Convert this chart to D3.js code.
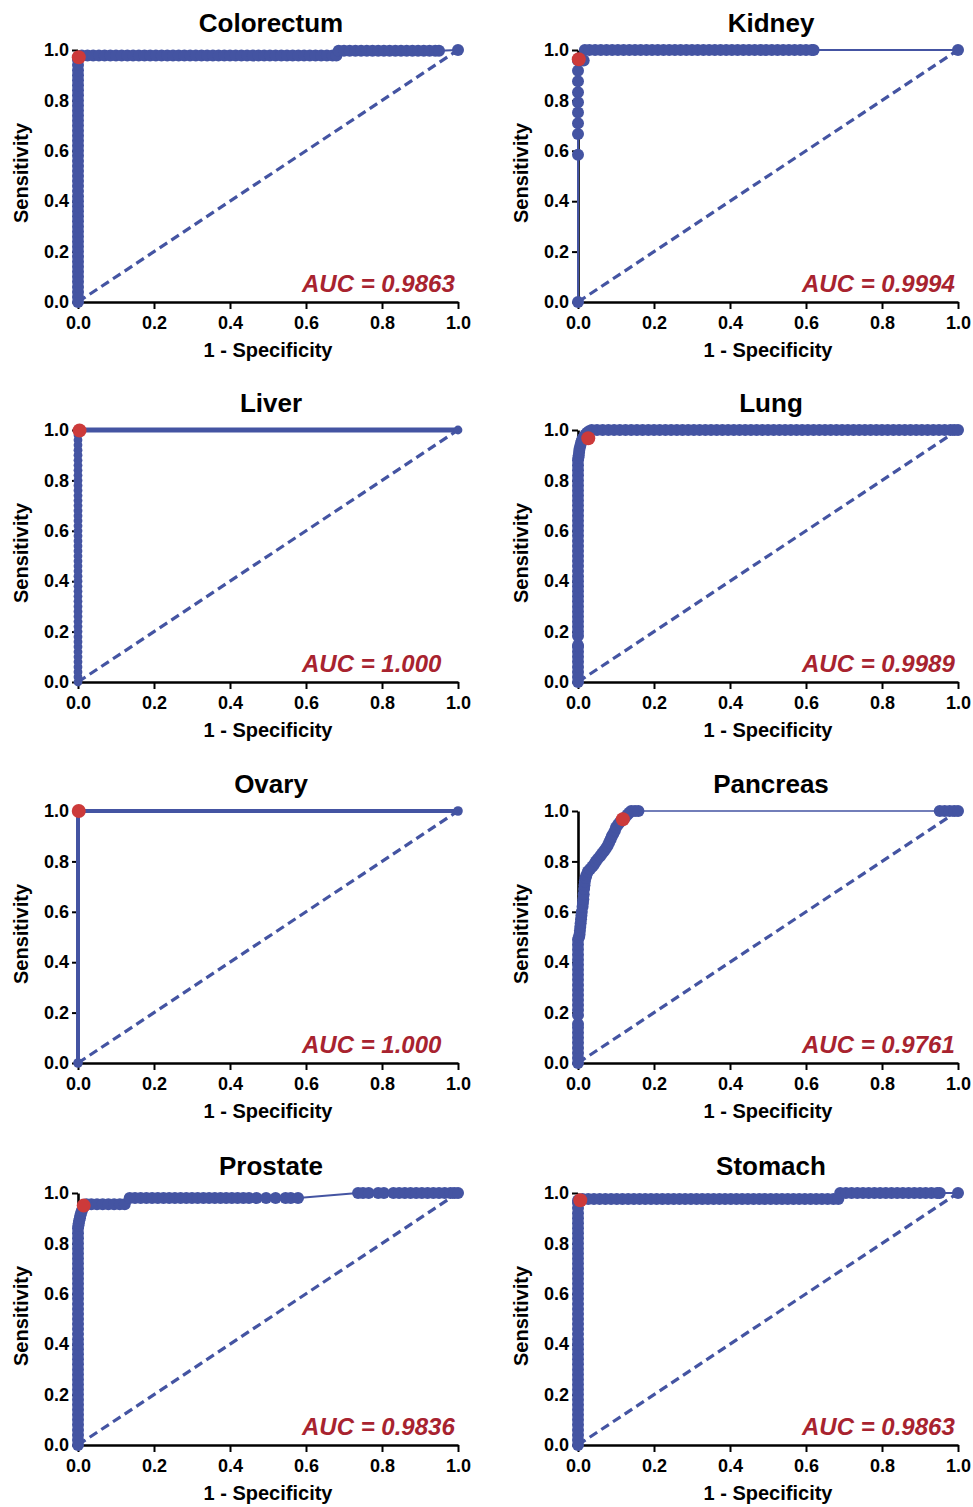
<!DOCTYPE html>
<html>
<head>
<meta charset="utf-8">
<script src="https://cdn.jsdelivr.net/npm/d3@7"></script>
<style>
body { margin: 0; background: #ffffff; }
svg { display: block; }
</style>
</head>
<body>
<svg id="svg" width="973" height="1507"></svg>
<script>
//Panels, in reading order
const ORGANS = ["Colorectum", "Kidney", "Liver", "Lung", "Ovary", "Pancreas", "Prostate", "Stomach"];
const AUC_LABELS = ["0.9863", "0.9994", "1.000", "0.9989", "1.000", "0.9761", "0.9836", "0.9863"];
const TICKS = [0, 0.2, 0.4, 0.6, 0.8, 1.0];

//ROC points: [1 - specificity, sensitivity]
const colorectumRoc = [[0,0],[0,0.02],[0,0.04],[0,0.06],[0,0.08],[0,0.1],[0,0.12],[0,0.14],[0,0.16],[0,0.18],[0,0.2],[0,0.22],[0,0.24],[0,0.26],[0,0.28],[0,0.3],[0,0.32],[0,0.34],[0,0.36],[0,0.38],[0,0.4],[0,0.42],[0,0.44],[0,0.46],[0,0.48],[0,0.5],[0,0.52],[0,0.54],[0,0.56],[0,0.58],[0,0.6],[0,0.62],[0,0.64],[0,0.66],[0,0.68],[0,0.7],[0,0.72],[0,0.74],[0,0.76],[0,0.78],[0,0.8],[0,0.82],[0,0.84],[0,0.86],[0,0.88],[0,0.9],[0,0.92],[0,0.94],[0,0.96],[0,0.97],
  [0.01,0.978],[0.025,0.978],[0.04,0.978],[0.055,0.978],[0.07,0.978],[0.085,0.978],[0.1,0.978],[0.115,0.978],[0.13,0.978],[0.145,0.978],[0.16,0.978],[0.175,0.978],[0.19,0.978],[0.205,0.978],[0.22,0.978],[0.235,0.978],[0.25,0.978],[0.265,0.978],[0.28,0.978],[0.295,0.978],[0.31,0.978],[0.325,0.978],[0.34,0.978],[0.355,0.978],[0.37,0.978],[0.385,0.978],[0.4,0.978],[0.415,0.978],[0.43,0.978],[0.445,0.978],[0.46,0.978],[0.475,0.978],[0.49,0.978],[0.505,0.978],[0.52,0.978],[0.535,0.978],[0.55,0.978],[0.565,0.978],[0.58,0.978],[0.595,0.978],[0.61,0.978],[0.625,0.978],[0.64,0.978],[0.655,0.978],[0.67,0.978],[0.68,0.978],
  [0.686,0.997],[0.7,0.997],[0.715,0.997],[0.73,0.997],[0.745,0.997],[0.76,0.997],[0.775,0.997],[0.79,0.997],[0.805,0.997],[0.82,0.997],[0.835,0.997],[0.85,0.997],[0.865,0.997],[0.88,0.997],[0.895,0.997],[0.91,0.997],[0.925,0.997],[0.94,0.997],[0.95,0.997],[1,1]];

const kidneyRoc = [[0,0],[0,0.584],[0,0.667],[0,0.709],[0,0.752],[0,0.793],[0,0.832],[0,0.876],[0,0.918],[0,0.958],[0.015,0.958],
  [0.018,1],[0.03,1],[0.045,1],[0.06,1],[0.075,1],[0.09,1],[0.105,1],[0.12,1],[0.135,1],[0.15,1],[0.165,1],[0.18,1],[0.195,1],[0.21,1],[0.225,1],[0.24,1],[0.255,1],[0.27,1],[0.285,1],[0.3,1],[0.315,1],[0.33,1],[0.345,1],[0.36,1],[0.375,1],[0.39,1],[0.405,1],[0.42,1],[0.435,1],[0.45,1],[0.465,1],[0.48,1],[0.495,1],[0.51,1],[0.525,1],[0.54,1],[0.555,1],[0.57,1],[0.585,1],[0.6,1],[0.615,1],[0.62,1],[1,1]];

const liverRoc = [[0,0],[0,0.02],[0,0.04],[0,0.06],[0,0.08],[0,0.1],[0,0.12],[0,0.14],[0,0.16],[0,0.18],[0,0.2],[0,0.22],[0,0.24],[0,0.26],[0,0.28],[0,0.3],[0,0.32],[0,0.34],[0,0.36],[0,0.38],[0,0.4],[0,0.42],[0,0.44],[0,0.46],[0,0.48],[0,0.5],[0,0.52],[0,0.54],[0,0.56],[0,0.58],[0,0.6],[0,0.62],[0,0.64],[0,0.66],[0,0.68],[0,0.7],[0,0.72],[0,0.74],[0,0.76],[0,0.78],[0,0.8],[0,0.82],[0,0.84],[0,0.86],[0,0.88],[0,0.9],[0,0.92],[0,0.94],[0,0.96],[0,0.98],[0,1],[1,1]];

const lungRoc = [[0,0],[0,0.02],[0,0.04],[0,0.06],[0,0.08],[0,0.1],[0,0.12],[0,0.14],[0,0.145],[0,0.183],[0,0.2],[0,0.22],[0,0.24],[0,0.26],[0,0.28],[0,0.3],[0,0.32],[0,0.34],[0,0.36],[0,0.38],[0,0.4],[0,0.42],[0,0.44],[0,0.46],[0,0.48],[0,0.5],[0,0.52],[0,0.54],[0,0.56],[0,0.58],[0,0.6],[0,0.62],[0,0.64],[0,0.66],[0,0.68],[0,0.7],[0,0.72],[0,0.74],[0,0.76],[0,0.78],[0,0.8],[0,0.82],[0,0.84],[0,0.86],[0,0.88],
  [0.001,0.89],[0.002,0.9],[0.003,0.913],[0.004,0.925],[0.006,0.937],[0.008,0.948],[0.01,0.958],[0.013,0.966],[0.016,0.974],[0.02,0.982],[0.024,0.989],[0.029,0.995],[0.036,1],
  [0.05,1],[0.065,1],[0.08,1],[0.095,1],[0.11,1],[0.125,1],[0.14,1],[0.155,1],[0.17,1],[0.185,1],[0.2,1],[0.215,1],[0.23,1],[0.245,1],[0.26,1],[0.275,1],[0.29,1],[0.305,1],[0.32,1],[0.335,1],[0.35,1],[0.365,1],[0.38,1],[0.395,1],[0.41,1],[0.425,1],[0.44,1],[0.455,1],[0.47,1],[0.485,1],[0.5,1],[0.515,1],[0.53,1],[0.545,1],[0.56,1],[0.575,1],[0.59,1],[0.605,1],[0.62,1],[0.635,1],[0.65,1],[0.665,1],[0.68,1],[0.695,1],[0.71,1],[0.725,1],[0.74,1],[0.755,1],[0.77,1],[0.785,1],[0.8,1],[0.815,1],[0.83,1],[0.845,1],[0.86,1],[0.875,1],[0.89,1],[0.905,1],[0.92,1],[0.935,1],[0.95,1],[0.965,1],[0.98,1],[0.99,1],[1,1]];

const ovaryRoc = [[0,0],[0,1],[1,1]];

const pancreasRoc = [[0,0],[0,0.02],[0,0.04],[0,0.06],[0,0.08],[0,0.1],[0,0.12],[0,0.14],[0,0.155],[0,0.19],[0,0.21],[0,0.23],[0,0.25],[0,0.27],[0,0.29],[0,0.31],[0,0.33],[0,0.35],[0,0.37],[0,0.39],[0,0.41],[0,0.43],[0,0.45],[0,0.47],[0,0.49],
  [0.003,0.5],[0.004,0.51],[0.005,0.525],[0.006,0.54],[0.007,0.555],[0.008,0.57],[0.009,0.585],[0.01,0.6],[0.012,0.62],[0.013,0.635],[0.014,0.65],[0.015,0.67],[0.016,0.69],[0.017,0.705],[0.018,0.72],[0.02,0.735],[0.022,0.745],[0.026,0.76],[0.032,0.77],[0.038,0.78],[0.043,0.79],[0.047,0.8],[0.052,0.81],[0.058,0.82],[0.063,0.83],[0.068,0.84],[0.073,0.85],[0.078,0.862],[0.082,0.875],[0.086,0.888],[0.089,0.9],[0.093,0.91],[0.097,0.922],[0.1,0.935],[0.105,0.945],[0.11,0.955],[0.118,0.967],[0.124,0.975],[0.13,0.985],[0.135,0.993],[0.14,1],[0.15,1],[0.159,1],
  [0.952,1],[0.965,1],[0.978,1],[0.99,1],[1,1]];

const prostateRoc = [[0,0],[0,0.02],[0,0.04],[0,0.06],[0,0.08],[0,0.1],[0,0.12],[0,0.14],[0,0.16],[0,0.18],[0,0.2],[0,0.22],[0,0.24],[0,0.26],[0,0.28],[0,0.3],[0,0.32],[0,0.34],[0,0.36],[0,0.38],[0,0.4],[0,0.42],[0,0.44],[0,0.46],[0,0.48],[0,0.5],[0,0.52],[0,0.54],[0,0.56],[0,0.58],[0,0.6],[0,0.62],[0,0.64],[0,0.66],[0,0.68],[0,0.7],[0,0.72],[0,0.74],[0,0.76],[0,0.78],[0,0.8],[0,0.82],[0,0.84],[0,0.86],
  [0.001,0.87],[0.002,0.88],[0.003,0.89],[0.005,0.9],[0.006,0.91],[0.008,0.92],[0.01,0.93],[0.013,0.94],[0.016,0.948],[0.022,0.955],
  [0.035,0.955],[0.05,0.955],[0.065,0.955],[0.08,0.955],[0.095,0.955],[0.11,0.955],[0.123,0.955],
  [0.136,0.98],[0.15,0.98],[0.165,0.98],[0.18,0.98],[0.195,0.98],[0.21,0.98],[0.225,0.98],[0.24,0.98],[0.255,0.98],[0.27,0.98],[0.285,0.98],[0.3,0.98],[0.315,0.98],[0.33,0.98],[0.345,0.98],[0.36,0.98],[0.375,0.98],[0.39,0.98],[0.405,0.98],[0.42,0.98],[0.435,0.98],[0.45,0.98],[0.47,0.98],[0.495,0.98],[0.52,0.98],[0.546,0.98],[0.56,0.98],[0.579,0.98],
  [0.737,1],[0.75,1],[0.765,1],[0.79,1],[0.805,1],[0.83,1],[0.845,1],[0.86,1],[0.875,1],[0.89,1],[0.905,1],[0.92,1],[0.935,1],[0.95,1],[0.965,1],[0.98,1],[0.99,1],[1,1]];

const stomachRoc = [[0,0],[0,0.02],[0,0.04],[0,0.06],[0,0.08],[0,0.1],[0,0.12],[0,0.14],[0,0.16],[0,0.18],[0,0.2],[0,0.22],[0,0.24],[0,0.26],[0,0.28],[0,0.3],[0,0.32],[0,0.34],[0,0.36],[0,0.38],[0,0.4],[0,0.42],[0,0.44],[0,0.46],[0,0.48],[0,0.5],[0,0.52],[0,0.54],[0,0.56],[0,0.58],[0,0.6],[0,0.62],[0,0.64],[0,0.66],[0,0.68],[0,0.7],[0,0.72],[0,0.74],[0,0.76],[0,0.78],[0,0.8],[0,0.82],[0,0.84],[0,0.86],[0,0.88],[0,0.9],[0,0.92],[0,0.94],[0,0.96],[0,0.97],
  [0.012,0.976],[0.027,0.976],[0.042,0.976],[0.057,0.976],[0.072,0.976],[0.087,0.976],[0.102,0.976],[0.117,0.976],[0.132,0.976],[0.147,0.976],[0.162,0.976],[0.177,0.976],[0.192,0.976],[0.207,0.976],[0.222,0.976],[0.237,0.976],[0.252,0.976],[0.267,0.976],[0.282,0.976],[0.297,0.976],[0.312,0.976],[0.327,0.976],[0.342,0.976],[0.357,0.976],[0.372,0.976],[0.387,0.976],[0.402,0.976],[0.417,0.976],[0.432,0.976],[0.447,0.976],[0.462,0.976],[0.477,0.976],[0.492,0.976],[0.507,0.976],[0.522,0.976],[0.537,0.976],[0.552,0.976],[0.567,0.976],[0.582,0.976],[0.597,0.976],[0.612,0.976],[0.627,0.976],[0.642,0.976],[0.657,0.976],[0.672,0.976],[0.685,0.976],
  [0.69,1],[0.705,1],[0.72,1],[0.735,1],[0.75,1],[0.765,1],[0.78,1],[0.795,1],[0.81,1],[0.825,1],[0.84,1],[0.855,1],[0.87,1],[0.885,1],[0.9,1],[0.915,1],[0.93,1],[0.945,1],[0.952,1],[1,1]];

const ROC_DATA = [colorectumRoc, kidneyRoc, liverRoc, lungRoc, ovaryRoc, pancreasRoc, prostateRoc, stomachRoc];

//Optimal cut-off point (red dot)
const CUTOFF_FPR = [0.002, 0.002, 0.004, 0.027, 0.002, 0.118, 0.015, 0.006];
const CUTOFF_TPR = [0.971, 0.963, 0.998, 0.967, 1.0, 0.967, 0.95, 0.971];

//Styles
const BLUE = "#4454a2";
const RED = "#cc3a3a";
const AUC_COLOR = "#a8232f";
const FONT = "'Liberation Sans', Arial, Helvetica, sans-serif";
const LINE_WIDTH = { Liver: 5, Ovary: 4, Pancreas: 1.5 };
const DOT_RADIUS = { Liver: 4.4, Ovary: 4.8 };

//Layout
const COL_X = [78, 578];
const ROW_Y = [50, 430, 811, 1193];
const PLOT_W = 380;
const PLOT_H = 252;

const svg = d3.select("#svg");

ORGANS.forEach((name, i) => {
  const g = svg.append("g")
    .attr("transform", "translate(" + COL_X[i % 2] + "," + ROW_Y[Math.floor(i / 2)] + ")");

  const x = d3.scaleLinear().domain([0, 1]).range([0, PLOT_W]);
  const y = d3.scaleLinear().domain([0, 1]).range([PLOT_H, 0]);

  //Axes
  const xAxis = g.append("g")
    .attr("transform", "translate(0," + PLOT_H + ")")
    .call(d3.axisBottom(x).tickValues(TICKS).tickFormat(d3.format(".1f")).tickSize(7).tickSizeOuter(0).tickPadding(7));
  const yAxis = g.append("g")
    .call(d3.axisLeft(y).tickValues(TICKS).tickFormat(d3.format(".1f")).tickSize(6).tickSizeOuter(0).tickPadding(3));

  [xAxis, yAxis].forEach(ax => {
    ax.attr("font-family", FONT).attr("font-size", 18).attr("font-weight", "bold");
    ax.select(".domain").attr("stroke", "#000").attr("stroke-width", 2.6);
    ax.selectAll(".tick line").attr("stroke", "#000").attr("stroke-width", 2);
    ax.selectAll(".tick text").attr("fill", "#000");
  });

  //Reference diagonal
  g.append("line")
    .attr("x1", x(0)).attr("y1", y(0))
    .attr("x2", x(1)).attr("y2", y(1))
    .attr("stroke", BLUE)
    .attr("stroke-width", 3.2)
    .attr("stroke-dasharray", "9,5");

  //ROC curve
  const data = ROC_DATA[i];
  const line = d3.line().x(d => x(d[0])).y(d => y(d[1]));
  g.append("path")
    .attr("d", line(data))
    .attr("fill", "none")
    .attr("stroke", BLUE)
    .attr("stroke-width", LINE_WIDTH[name] || 2);

  g.selectAll("circle.pt")
    .data(data)
    .enter().append("circle")
    .attr("class", "pt")
    .attr("cx", d => x(d[0]))
    .attr("cy", d => y(d[1]))
    .attr("r", DOT_RADIUS[name] || 6)
    .attr("fill", BLUE);

  //Cut-off
  g.append("circle")
    .attr("cx", x(CUTOFF_FPR[i]))
    .attr("cy", y(CUTOFF_TPR[i]))
    .attr("r", 7)
    .attr("fill", RED);

  //Texts
  g.append("text")
    .attr("x", PLOT_W / 2 + 3)
    .attr("y", -18)
    .attr("text-anchor", "middle")
    .attr("font-family", FONT)
    .attr("font-size", 26)
    .attr("font-weight", "bold")
    .text(name);

  g.append("text")
    .attr("x", PLOT_W / 2)
    .attr("y", PLOT_H + 55)
    .attr("text-anchor", "middle")
    .attr("font-family", FONT)
    .attr("font-size", 20)
    .attr("font-weight", "bold")
    .text("1 - Specificity");

  g.append("text")
    .attr("transform", "rotate(-90)")
    .attr("x", -(PLOT_H / 2 - 3))
    .attr("y", -50)
    .attr("text-anchor", "middle")
    .attr("font-family", FONT)
    .attr("font-size", 20)
    .attr("font-weight", "bold")
    .text("Sensitivity");

  g.append("text")
    .attr("x", 224)
    .attr("y", PLOT_H - 10)
    .attr("font-family", FONT)
    .attr("font-size", 24)
    .attr("font-weight", "bold")
    .attr("font-style", "italic")
    .attr("fill", AUC_COLOR)
    .text("AUC = " + AUC_LABELS[i]);
});
</script>
</body>
</html>
